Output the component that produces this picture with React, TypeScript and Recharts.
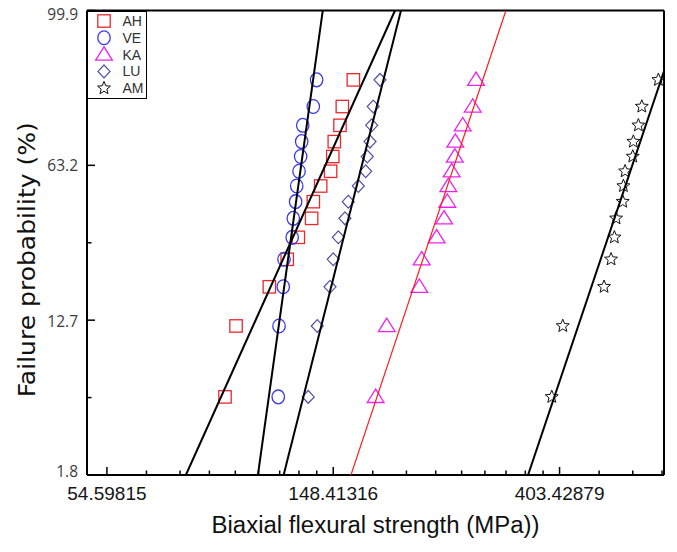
import React from 'react'
import { ComposedChart, Legend, ReferenceLine, Scatter, XAxis, YAxis } from 'recharts'

// failure probability (%) of each ranked specimen (same ranks for every group)
const failureProb = [4.9, 11.8, 18.8, 25.7, 32.6, 39.6, 46.5, 53.5, 60.4, 67.4, 74.3, 81.3, 88.2, 95.1]

// biaxial flexural strength (MPa), sorted by rank
const strengthAH = [92.0, 96.6, 111.9, 121.1, 127.2, 134.9, 135.9, 140.4, 146.7, 148.1, 149.1, 152.9, 154.5, 162.2]
const strengthVE = [116.4, 116.8, 119.0, 119.4, 123.8, 124.4, 125.7, 126.3, 127.6, 128.5, 129.1, 129.7, 135.9, 137.9]
const strengthKA = [179.0, 188.0, 217.1, 219.4, 234.4, 242.2, 245.7, 246.8, 250.5, 254.0, 254.5, 263.0, 274.9, 278.9]
const strengthLU = [132.9, 138.3, 146.3, 148.4, 151.8, 156.3, 158.6, 165.8, 171.3, 172.5, 174.6, 175.9, 177.1, 182.5]
const strengthAM = [389.8, 409.2, 491.1, 506.5, 514.0, 517.9, 533.4, 534.9, 538.9, 557.5, 559.0, 571.5, 580.2, 624.3]

const groups = ['AH', 'VE', 'KA', 'LU', 'AM']
const groupStrengths = [strengthAH, strengthVE, strengthKA, strengthLU, strengthAM]

// Weibull fit lines: strength at the lower and upper probability ends
const fitLow = [77.4, 106.4, 160.5, 119.2, 351.0]
const fitHigh = [195.0, 141.7, 318.3, 200.2, 700.4]
const fitProbEnds = [1.815, 99.938]

const xTickLabels = ['54.59815', '148.41316', '403.42879']
const yMajorTicks = [-4, -2, 0, 2]
const yTickLabels = ['1.8', '12.7', '63.2', '99.9']
// end labels sit a little inside the frame
const yLabelNudge = [-4, 1, 0, 3]

const X_DOMAIN: [number, number] = [50, 640]
const Y_DOMAIN: [number, number] = [-4, 2]

const markerColor: Record<string, string> = {
  AH: '#e8282c',
  VE: '#3a3aec',
  KA: '#ee22ee',
  LU: '#5050aa',
  AM: '#111111',
}
const fitColor: Record<string, string> = {
  AH: '#000',
  VE: '#000',
  KA: '#ff1c1c',
  LU: '#000',
  AM: '#000',
}

// Weibull probability paper: ln(-ln(1 - F))
const toWeibull = (p: number) => Math.log(-Math.log(1 - p / 100))

const pointData = groupStrengths.map((list) =>
  list.map((x, i) => ({ x, w: toWeibull(failureProb[i]) })),
)
const fitData = groups.map((_, i) => [
  { x: fitLow[i], w: toWeibull(fitProbEnds[0]) },
  { x: fitHigh[i], w: toWeibull(fitProbEnds[1]) },
])

// log axis: labelled ticks at e^n, 8 linear minor ticks in each decade
const xMajorTicks = xTickLabels.map(Number)
const xMinorTicks: number[] = []
xMajorTicks.forEach((m) => {
  const step = (m * Math.E - m) / 9
  for (let k = 1; k <= 8; k++) {
    const v = m + k * step
    if (v <= X_DOMAIN[1]) xMinorTicks.push(v)
  }
})
const xTicks = [...xMajorTicks, ...xMinorTicks].sort((a, b) => a - b)
const yTicks = [-4, -3, -2, -1, 0, 1, 2]

function starPoints(cx: number, cy: number, ro: number, ri: number) {
  const pts: string[] = []
  for (let i = 0; i < 10; i++) {
    const r = i % 2 === 0 ? ro : ri
    const a = -Math.PI / 2 + (i * Math.PI) / 5
    pts.push(`${cx + r * Math.cos(a)},${cy + r * Math.sin(a)}`)
  }
  return pts.join(' ')
}

function marker(group: string, cx: number, cy: number) {
  const c = markerColor[group]
  const common = { fill: 'none', stroke: c, strokeWidth: 1.3 }
  switch (group) {
    case 'AH':
      return <rect x={cx - 6.2} y={cy - 6.2} width={12.4} height={12.4} {...common} />
    case 'VE':
      return <ellipse cx={cx} cy={cy} rx={6.2} ry={6.9} {...common} />
    case 'KA':
      return (
        <polygon
          points={`${cx},${cy - 7.8} ${cx - 8.4},${cy + 5.6} ${cx + 8.4},${cy + 5.6}`}
          {...common}
        />
      )
    case 'LU':
      return (
        <polygon
          points={`${cx},${cy - 6.4} ${cx + 6},${cy} ${cx},${cy + 6.4} ${cx - 6},${cy}`}
          {...common}
          strokeWidth={1.2}
        />
      )
    default:
      return <polygon points={starPoints(cx, cy, 6.8, 3)} {...common} strokeWidth={1} />
  }
}

function XTick(props: any) {
  const { x, y, payload } = props
  const idx = xMajorTicks.findIndex((m) => Math.abs(m - payload.value) < 1e-6)
  const major = idx >= 0
  return (
    <g>
      <line x1={x} x2={x} y1={y} y2={y - (major ? 8 : 4.5)} stroke="#000" strokeWidth={1.5} />
      {major && (
        <text
          x={x}
          y={y + 18}
          textAnchor="middle"
          dominantBaseline="central"
          fontFamily="Arial, 'Liberation Sans', sans-serif"
          fontSize={19}
          fill="#151515"
        >
          {xTickLabels[idx]}
        </text>
      )}
    </g>
  )
}

function YTick(props: any) {
  const { x, y, payload } = props
  const idx = yMajorTicks.indexOf(payload.value)
  const major = idx >= 0
  return (
    <g>
      <line x1={x} x2={x + (major ? 8 : 4.5)} y1={y} y2={y} stroke="#000" strokeWidth={1.5} />
      {major && (
        <text
          x={x - 9}
          y={y + yLabelNudge[idx]}
          textAnchor="end"
          dominantBaseline="central"
          fontFamily="'Open Sans', sans-serif"
          fontSize={15.5}
          fill="#3c3c3c"
        >
          {yTickLabels[idx]}
        </text>
      )}
    </g>
  )
}

function XTitle(props: any) {
  const vb = props.viewBox
  return (
    <text
      x={vb.x + vb.width / 2}
      y={vb.y + 50}
      textAnchor="middle"
      dominantBaseline="central"
      fontFamily="Arial, 'Liberation Sans', sans-serif"
      fontSize={23}
      textLength={328}
      lengthAdjust="spacingAndGlyphs"
      fill="#111"
    >
      Biaxial flexural strength (MPa))
    </text>
  )
}

function YTitle(props: any) {
  const vb = props.viewBox
  const cx = vb.x
  const cy = vb.y + vb.height / 2 + 17
  return (
    <text
      x={cx}
      y={cy}
      transform={`rotate(-90, ${cx}, ${cy})`}
      textAnchor="middle"
      dominantBaseline="central"
      fontFamily="'DejaVu Sans', sans-serif"
      fontSize={23}
      textLength={275}
      lengthAdjust="spacingAndGlyphs"
      fill="#111"
    >
      Failure probability (%)
    </text>
  )
}

function LegendBox() {
  return (
    <svg width={60} height={88} style={{ display: 'block' }}>
      <rect x={0.5} y={0.5} width={59} height={87} fill="#fff" stroke="#000" strokeWidth={1} />
      {groups.map((g, i) => {
        const cy = 10 + i * 16.8
        return (
          <g key={g}>
            {marker(g, 17, cy)}
            <text
              x={35.5}
              y={cy}
              dominantBaseline="central"
              fontFamily="Arial, 'Liberation Sans', sans-serif"
              fontSize={14}
              fill="#333"
            >
              {g}
            </text>
          </g>
        )
      })}
    </svg>
  )
}

export default function App() {
  return (
    <div style={{ marginTop: -8 }}>
      <ComposedChart
        width={669}
        height={544}
        margin={{ top: 10.5, right: 13, bottom: 29, left: 19 }}
      >
        <XAxis
          dataKey="x"
          type="number"
          scale="log"
          domain={X_DOMAIN}
          allowDataOverflow
          ticks={xTicks}
          interval={0}
          tickSize={0}
          tickMargin={0}
          tickLine={false}
          tick={<XTick />}
          axisLine={{ stroke: '#000', strokeWidth: 2 }}
          height={40}
          label={<XTitle />}
        />
        <YAxis
          dataKey="w"
          type="number"
          domain={Y_DOMAIN}
          allowDataOverflow
          ticks={yTicks}
          interval={0}
          tickSize={0}
          tickMargin={0}
          tickLine={false}
          tick={<YTick />}
          axisLine={{ stroke: '#000', strokeWidth: 2 }}
          width={60}
          label={<YTitle />}
        />
        <ReferenceLine y={Y_DOMAIN[1]} stroke="#000" strokeWidth={2} />
        <ReferenceLine x={X_DOMAIN[1]} stroke="#000" strokeWidth={2} />
        {groups.map((g, i) => (
          <Scatter
            key={g}
            name={g}
            data={pointData[i]}
            isAnimationActive={false}
            shape={(p: any) => marker(g, p.cx, p.cy)}
          />
        ))}
        {groups.map((g, i) => (
          <Scatter
            key={`fit-${g}`}
            name={`fit-${g}`}
            data={fitData[i]}
            legendType="none"
            isAnimationActive={false}
            line={{ stroke: fitColor[g], strokeWidth: g === 'KA' ? 1.2 : 2 }}
            shape={() => <g />}
          />
        ))}
        <Legend
          layout="vertical"
          align="center"
          verticalAlign="middle"
          content={() => <LegendBox />}
          wrapperStyle={{ left: 79.3, top: 10.7, width: 60, height: 88 }}
        />
      </ComposedChart>
    </div>
  )
}
